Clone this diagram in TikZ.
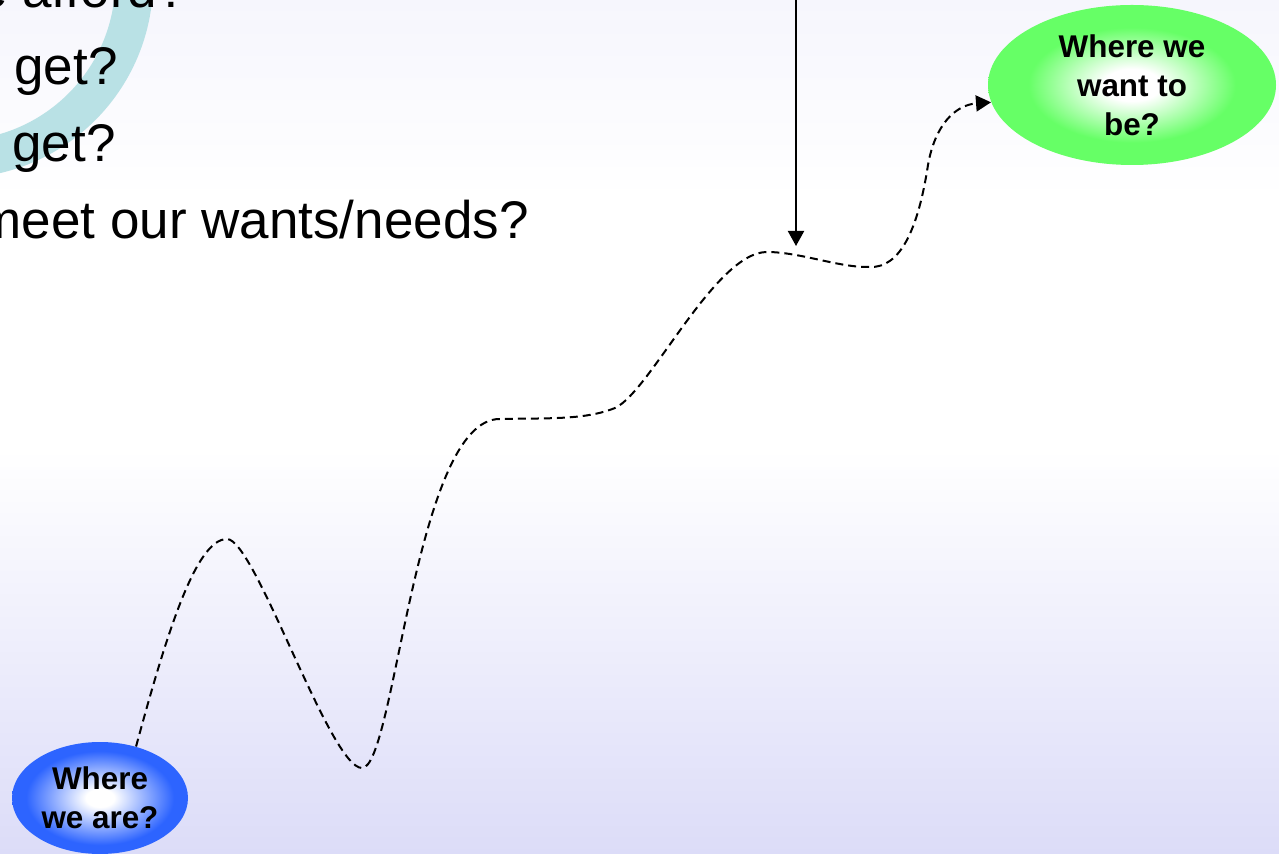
\documentclass[tikz,border=0pt]{standalone}
\usepackage{fontspec}
\setmainfont{Liberation Sans}
\usetikzlibrary{arrows.meta,shapes.geometric}
\definecolor{bgbot}{RGB}{220,220,248}
\definecolor{bgtop}{RGB}{246,246,253}
\definecolor{ringc}{RGB}{185,225,229}
\definecolor{grn}{RGB}{102,255,102}
\definecolor{blu}{RGB}{45,100,255}
\pgfdeclareverticalshading{bgshade}{100bp}{color(0bp)=(bgbot); color(25bp)=(bgbot); color(48.7bp)=(white); color(63.3bp)=(white); color(75bp)=(bgtop); color(100bp)=(bgtop)}
\pgfdeclareradialshading{grnshade}{\pgfpoint{0bp}{0bp}}{color(0bp)=(white); color(5bp)=(white); color(18bp)=(grn); color(25bp)=(grn); color(50bp)=(grn)}
\pgfdeclareradialshading{blushade}{\pgfpoint{0bp}{0bp}}{color(0bp)=(white); color(4bp)=(white); color(21bp)=(blu); color(25bp)=(blu); color(50bp)=(blu)}
\tikzset{
  bigtext/.style={inner sep=0pt, font=\fontsize{26.5}{31}\selectfont},
  bubble/.style={ellipse, inner sep=0pt, align=center, font=\bfseries\fontsize{15.7}{19.5}\selectfont},
  pathline/.style={line width=1pt, dash pattern=on 4pt off 2.5pt, -{Triangle[length=7.5pt,width=8pt]}},
  downarrow/.style={line width=1pt, -{Triangle[length=7.5pt,width=8pt]}}
}
\begin{document}
\begin{tikzpicture}[x=0.5pt,y=-0.5pt]
\useasboundingbox (0,0) rectangle (1279,854);
\clip (0,0) rectangle (1279,854);
\shade[shading=bgshade] (0,0) rectangle (1279,854);
% teal ring
\fill[ringc, even odd rule] (-44.7,-19.6) circle[radius=98.9pt] (-44.7,-19.6) circle[radius=80pt];
% text lines
\node[bigtext, anchor=base east] (l1) at (187,8) {e afford?};
\node[bigtext, anchor=base west] (l2) at (14,85) {get?};
\node[bigtext, anchor=base west] (l3) at (12,162) {get?};
\node[bigtext, anchor=base east] (l4) at (529,239) {meet our wants/needs?};
% bubbles
\node[bubble, shading=grnshade, minimum width=144pt, minimum height=80pt] (want) at (1132,85) {Where we\\want to\\be?};
\node[bubble, shading=blushade, minimum width=88pt, minimum height=56pt] (here) at (100,798) {Where\\we are?};
% path
\draw[pathline] (here.55) .. controls (165,640) and (195,539) .. (227,539)
  .. controls (255,539) and (330,768) .. (362,768)
  .. controls (395,768) and (415,418) .. (500,419)
  .. controls (550,418) and (585,420) .. (615,408)
  .. controls (650,392) and (715,252) .. (767,252)
  .. controls (800,252) and (840,268) .. (870,267)
  .. controls (900,268) and (918,230) .. (928,165)
  .. controls (935,125) and (955,105) .. (want.187);
% vertical arrow
\coordinate (topend) at (796,-2);
\coordinate (dip) at (796,246);
\draw[downarrow] (topend) -- (dip);
\end{tikzpicture}
\end{document}
